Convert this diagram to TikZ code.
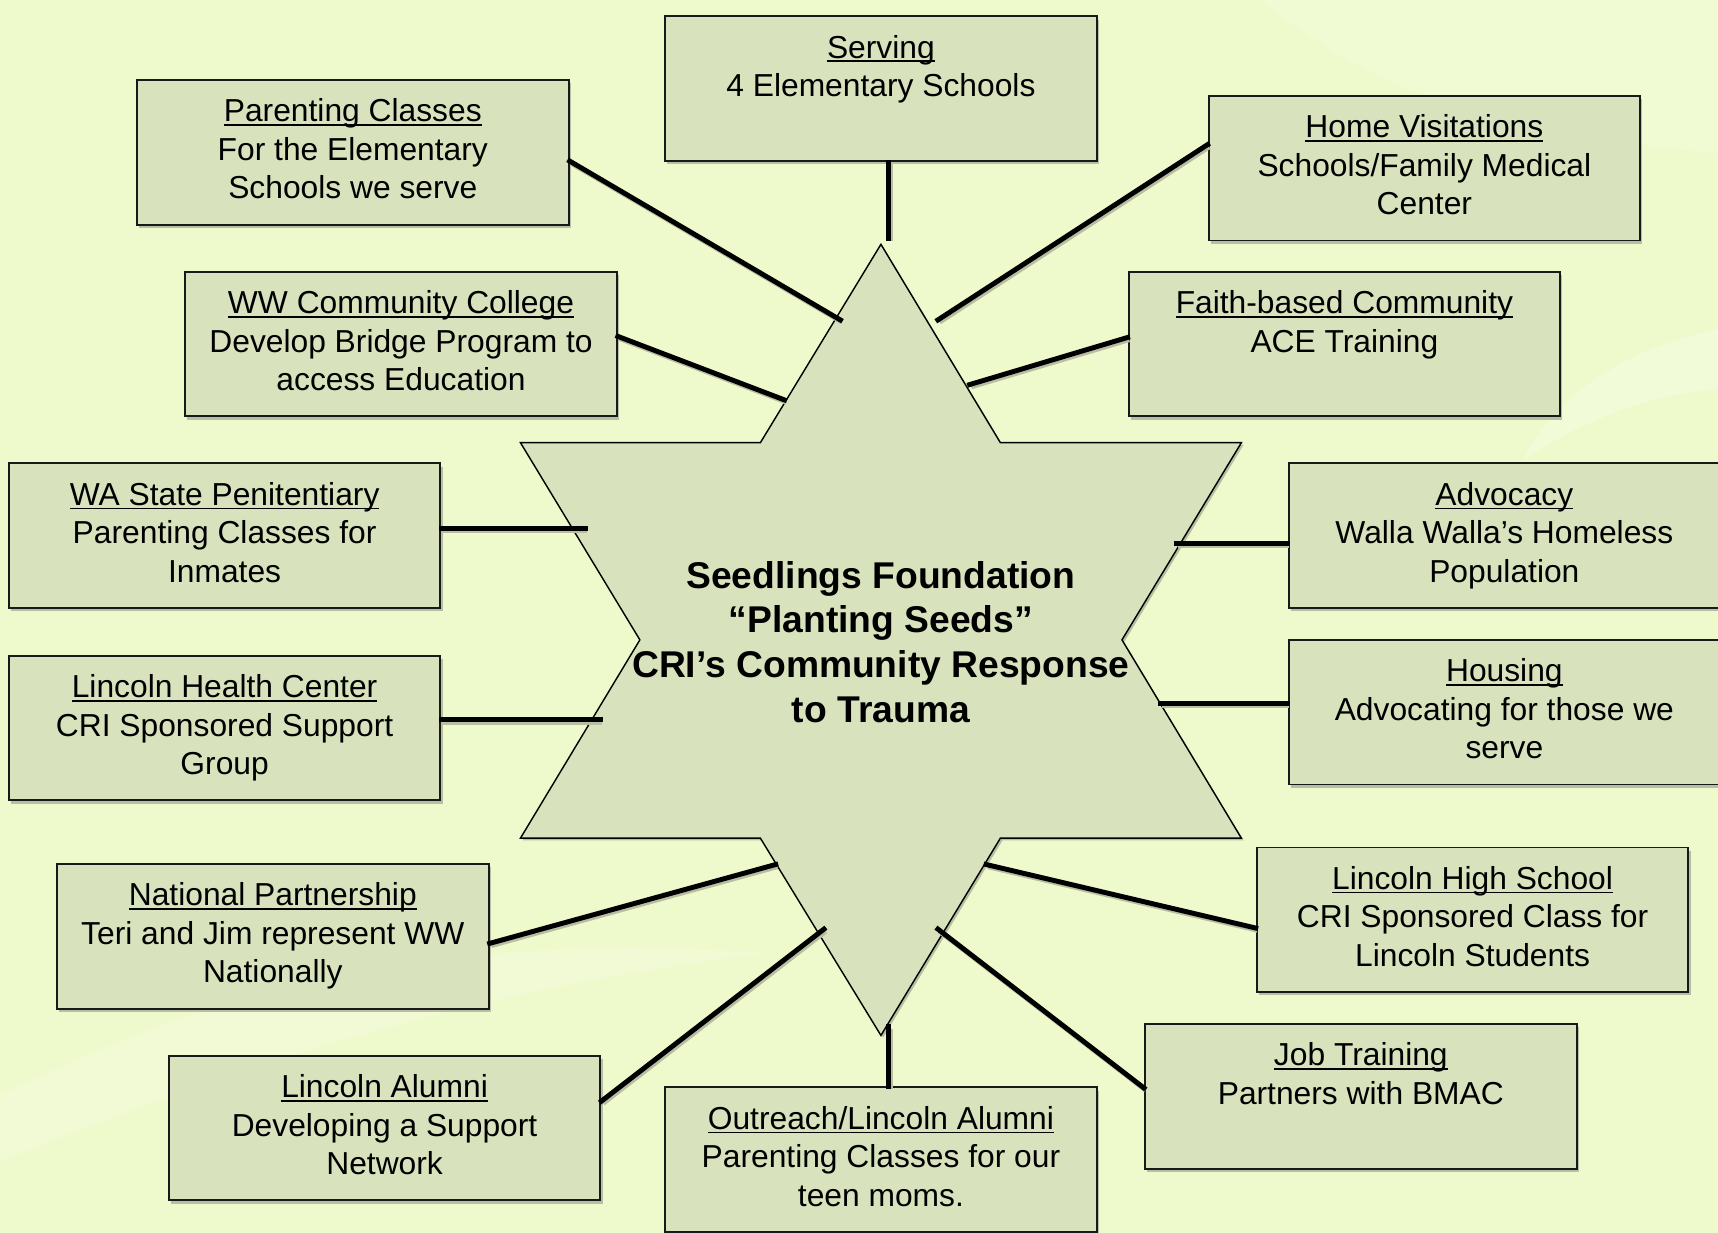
\documentclass[tikz,border=0pt]{standalone}
\usepackage{fontspec}
\setmainfont{Liberation Sans}
\usetikzlibrary{shadows}
\definecolor{bgc}{HTML}{EEFACC}
\definecolor{boxc}{HTML}{D8E3BD}
\definecolor{shc}{HTML}{B7BEA2}
\newcommand{\ulin}[1]{\leavevmode\setbox0=\hbox{#1}\rlap{\rule[-3.6pt]{\wd0}{1.7pt}}\box0}
\newcommand{\topstrut}{\rule{0pt}{22pt}}
\begin{document}
\begin{tikzpicture}[x=1pt,y=-1pt,
  infobox/.style={draw=black!90, line width=1.8pt, fill=boxc, minimum width=394pt, minimum height=132pt, inner sep=0pt,
    drop shadow={shadow xshift=2pt, shadow yshift=-3pt, fill=shc, opacity=1}},
  boxtext/.style={anchor=north, align=center, inner sep=0pt, font=\fontsize{29}{35}\selectfont},
  link/.style={line width=4.5pt, black, line cap=rect,
    preaction={draw=shc, line width=4.5pt, transform canvas={shift={(1.5pt,-2pt)}}}},
  startext/.style={align=center, inner sep=0pt, font=\bfseries\fontsize{34}{41}\selectfont}
]
\useasboundingbox (0,0) rectangle (1568,1125);
\fill[bgc] (0,0) rectangle (1568,1125);
% faint background swooshes
\fill[white, opacity=0.22] (1568,300) .. controls (1480,320) and (1420,360) .. (1390,420) .. controls (1450,380) and (1510,360) .. (1568,355) -- cycle;
\fill[white, opacity=0.18] (0,1000) .. controls (200,900) and (400,850) .. (700,870) .. controls (450,900) and (250,960) .. (0,1060) -- cycle;
\fill[white, opacity=0.15] (1150,0) .. controls (1250,80) and (1350,120) .. (1568,140) -- (1568,0) -- cycle;

% star
\path[draw=black, line width=1.3pt, fill=boxc, drop shadow={shadow xshift=2pt, shadow yshift=-2pt, fill=shc, opacity=1}]
  (804,223) -- (913,404) -- (1133,404) -- (1024,584) -- (1133,765) -- (913,765)
  -- (804,945) -- (694,765) -- (475,765) -- (584,584) -- (475,404) -- (694,404) -- cycle;
\node[startext] (ctr) at (804,586) {Seedlings Foundation\\“Planting Seeds”\\CRI’s Community Response\\to Trauma};

% boxes
\node[infobox] (serv) at (804,81) {};
\node[boxtext] at ([yshift=-17pt]serv.north) {\topstrut\ulin{Serving}\\4 Elementary Schools};
\node[infobox] (pc) at (322,139) {};
\node[boxtext] at ([yshift=-17pt]pc.north) {\topstrut\ulin{Parenting Classes}\\For the Elementary\\Schools we serve};
\node[infobox] (hv) at (1300,153.5) {};
\node[boxtext] at ([yshift=-17pt]hv.north) {\topstrut\ulin{Home Visitations}\\Schools/Family Medical\\Center};
\node[infobox] (ww) at (366,314) {};
\node[boxtext] at ([yshift=-17pt]ww.north) {\topstrut\ulin{WW Community College}\\Develop Bridge Program to\\access Education};
\node[infobox] (fb) at (1227,314) {};
\node[boxtext] at ([yshift=-17pt]fb.north) {\topstrut\ulin{Faith-based Community}\\ACE Training};
\node[infobox] (wa) at (205,489) {};
\node[boxtext] at ([yshift=-17pt]wa.north) {\topstrut\ulin{WA State Penitentiary}\\Parenting Classes for\\Inmates};
\node[infobox] (adv) at (1373,489) {};
\node[boxtext] at ([yshift=-17pt]adv.north) {\topstrut\ulin{Advocacy}\\Walla Walla’s Homeless\\Population};
\node[infobox] (lhc) at (205,664.5) {};
\node[boxtext] at ([yshift=-17pt]lhc.north) {\topstrut\ulin{Lincoln Health Center}\\CRI Sponsored Support\\Group};
\node[infobox] (hou) at (1373,650) {};
\node[boxtext] at ([yshift=-17pt]hou.north) {\topstrut\ulin{Housing}\\Advocating for those we\\serve};
\node[infobox] (np) at (249,854.5) {};
\node[boxtext] at ([yshift=-17pt]np.north) {\topstrut\ulin{National Partnership}\\Teri and Jim represent WW\\Nationally};
\node[infobox] (lhs) at (1344,839.5) {};
\node[boxtext] at ([yshift=-17pt]lhs.north) {\topstrut\ulin{Lincoln High School}\\CRI Sponsored Class for\\Lincoln Students};
\node[infobox] (la) at (351,1029.5) {};
\node[boxtext] at ([yshift=-17pt]la.north) {\topstrut\ulin{Lincoln Alumni}\\Developing a Support\\Network};
\node[infobox] (jt) at (1242,1000.5) {};
\node[boxtext] at ([yshift=-17pt]jt.north) {\topstrut\ulin{Job Training}\\Partners with BMAC};
\node[infobox] (out) at (804,1058.5) {};
\node[boxtext] at ([yshift=-17pt]out.north) {\topstrut\ulin{Outreach/Lincoln Alumni}\\Parenting Classes for our\\teen moms.};

% star-side ends of the connectors
\coordinate (e-serv) at (811,218);
\coordinate (e-pc) at (767,292);
\coordinate (e-hv) at (856,292);
\coordinate (e-ww) at (716,365);
\coordinate (e-fb) at (885,351);
\coordinate (e-wa) at (534,482);
\coordinate (e-adv) at (1074,496);
\coordinate (e-lhc) at (548,657);
\coordinate (e-hou) at (1059,642);
\coordinate (e-np) at (708,789);
\coordinate (e-lhs) at (900,789);
\coordinate (e-la) at (752,848);
\coordinate (e-jt) at (856,848);
\coordinate (e-out) at (811,937);

% connectors
\draw[link] ([xshift=7pt]serv.south) -- (e-serv);
\draw[link] ([yshift=-8pt]pc.east) -- (e-pc);
\draw[link] ([yshift=21.5pt]hv.west) -- (e-hv);
\draw[link] ([yshift=7pt]ww.east) -- (e-ww);
\draw[link] ([yshift=6pt]fb.west) -- (e-fb);
\draw[link] ([yshift=7pt]wa.east) -- (e-wa);
\draw[link] ([yshift=-7pt]adv.west) -- (e-adv);
\draw[link] ([yshift=7.5pt]lhc.east) -- (e-lhc);
\draw[link] ([yshift=8pt]hou.west) -- (e-hou);
\draw[link] ([yshift=-6.5pt]np.east) -- (e-np);
\draw[link] ([yshift=-7.5pt]lhs.west) -- (e-lhs);
\draw[link] ([yshift=24.5pt]la.east) -- (e-la);
\draw[link] ([yshift=7.5pt]jt.west) -- (e-jt);
\draw[link] ([xshift=7pt]out.north) -- (e-out);
\end{tikzpicture}
\end{document}
